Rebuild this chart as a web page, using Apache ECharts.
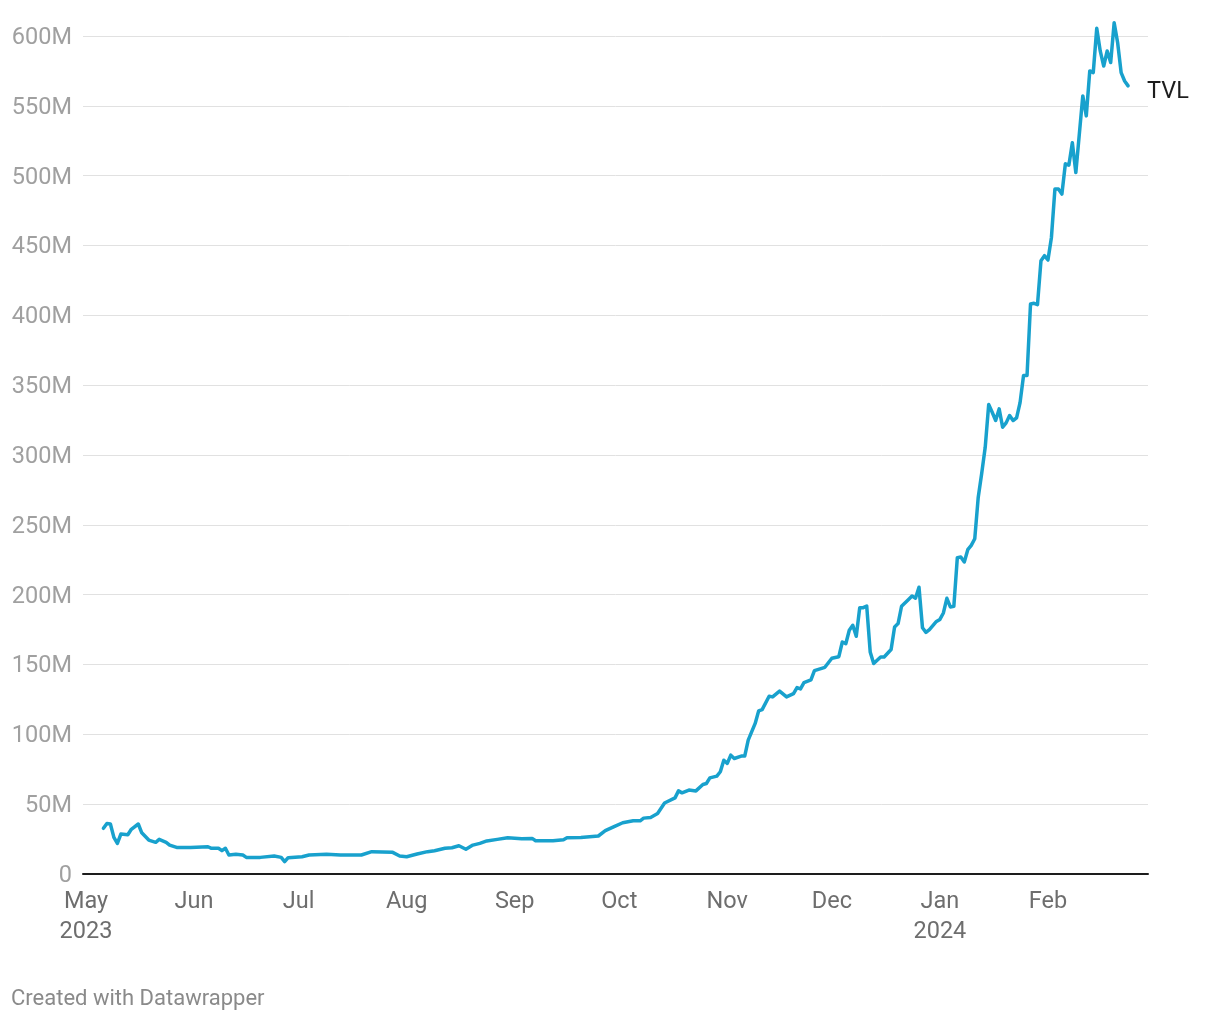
<!DOCTYPE html>
<html>
<head>
<meta charset="utf-8">
<script src="https://cdn.jsdelivr.net/npm/echarts@6/dist/echarts.min.js"></script>
<style>
html,body{margin:0;padding:0;background:#fff;}
#chart{width:1220px;height:1020px;}
</style>
</head>
<body>
<div id="chart"></div>
<script>
const dates = [
'2023-05-06','2023-05-07','2023-05-08','2023-05-09','2023-05-10','2023-05-11','2023-05-13','2023-05-14','2023-05-16','2023-05-17',
'2023-05-19','2023-05-21','2023-05-22','2023-05-24','2023-05-25','2023-05-27','2023-05-31','2023-06-05','2023-06-06','2023-06-08',
'2023-06-09','2023-06-10','2023-06-11','2023-06-13','2023-06-15','2023-06-16','2023-06-20','2023-06-24','2023-06-26','2023-06-27',
'2023-06-28','2023-07-02','2023-07-04','2023-07-09','2023-07-13','2023-07-19','2023-07-22','2023-07-28','2023-07-30','2023-08-01',
'2023-08-04','2023-08-07','2023-08-09','2023-08-12','2023-08-14','2023-08-16','2023-08-18','2023-08-20','2023-08-22','2023-08-24',
'2023-08-27','2023-08-30','2023-09-03','2023-09-06','2023-09-07','2023-09-12','2023-09-15','2023-09-16','2023-09-20','2023-09-25',
'2023-09-27','2023-09-30','2023-10-02','2023-10-05','2023-10-07','2023-10-08','2023-10-10','2023-10-12','2023-10-14','2023-10-17',
'2023-10-18','2023-10-19','2023-10-21','2023-10-23','2023-10-25','2023-10-26','2023-10-27','2023-10-29','2023-10-30','2023-10-31',
'2023-11-01','2023-11-02','2023-11-03','2023-11-05','2023-11-06','2023-11-07','2023-11-09','2023-11-10','2023-11-11','2023-11-13',
'2023-11-14','2023-11-16','2023-11-18','2023-11-20','2023-11-21','2023-11-22','2023-11-23','2023-11-25','2023-11-26','2023-11-29',
'2023-12-01','2023-12-03','2023-12-04','2023-12-05','2023-12-06','2023-12-07','2023-12-08','2023-12-09','2023-12-10','2023-12-11',
'2023-12-12','2023-12-13','2023-12-15','2023-12-16','2023-12-18','2023-12-19','2023-12-20','2023-12-21','2023-12-23','2023-12-24',
'2023-12-25','2023-12-26','2023-12-27','2023-12-28','2023-12-29','2023-12-31','2024-01-01','2024-01-02','2024-01-03','2024-01-04',
'2024-01-05','2024-01-06','2024-01-07','2024-01-08','2024-01-09','2024-01-10','2024-01-11','2024-01-12','2024-01-13','2024-01-14',
'2024-01-15','2024-01-16','2024-01-17','2024-01-18','2024-01-19','2024-01-20','2024-01-21','2024-01-22','2024-01-23','2024-01-24',
'2024-01-25','2024-01-26','2024-01-27','2024-01-28','2024-01-29','2024-01-30','2024-01-31','2024-02-01','2024-02-02','2024-02-03',
'2024-02-04','2024-02-05','2024-02-06','2024-02-07','2024-02-08','2024-02-09','2024-02-11','2024-02-12','2024-02-13','2024-02-14',
'2024-02-15','2024-02-16','2024-02-17','2024-02-18','2024-02-19','2024-02-20','2024-02-21','2024-02-22','2024-02-23','2024-02-24'
];
const tvl = [
32.7,36.2,35.8,26.2,21.9,28.6,28.1,32.0,35.8,29.5,
24.3,22.7,24.8,22.7,20.7,19.0,19.0,19.5,18.4,18.4,
16.7,18.4,13.6,14.1,13.6,11.9,11.9,12.9,11.9,8.8,
11.7,12.4,13.6,14.1,13.6,13.6,16.0,15.5,12.9,12.4,
14.3,16.0,16.7,18.4,18.8,20.2,17.7,20.7,21.9,23.7,
24.8,25.9,25.3,25.5,23.8,23.8,24.5,25.9,26.2,27.2,
31.0,34.5,36.7,38.1,38.1,40.0,40.5,43.3,50.8,54.5,
59.5,58.1,60.1,59.5,64.1,64.8,68.8,70.1,73.2,81.5,
79.2,85.1,82.7,84.4,84.4,95.8,107.8,116.8,117.7,127.3,
126.8,131.0,126.8,129.2,133.5,132.5,137.0,139.0,145.6,148.0,
154.5,155.6,166.1,164.9,174.5,178.1,170.2,190.7,190.7,191.9,
159.0,150.7,155.4,155.4,160.7,176.9,179.3,191.7,196.5,199.0,
197.5,205.3,176.3,173.0,175.0,180.8,182.3,186.9,197.4,191.2,
191.7,226.5,226.9,223.4,232.2,235.3,240.0,269.8,287.0,305.5,
336.1,330.6,324.7,333.0,319.9,323.0,328.3,324.7,326.6,337.5,
356.9,356.9,408.1,408.6,407.6,439.1,442.7,439.6,455.8,490.4,
490.4,486.8,508.5,507.5,523.6,502.2,557.1,542.8,575.0,573.8,
605.5,589.3,578.5,589.3,581.0,609.5,595.2,573.8,567.8,564.3
];
const tickDates = ['2023-05-01','2023-06-01','2023-07-01','2023-08-01','2023-09-01','2023-10-01','2023-11-01','2023-12-01','2024-01-01','2024-02-01'];
const tickLabels = ['May\n2023','Jun','Jul','Aug','Sep','Oct','Nov','Dec','Jan\n2024','Feb'];
const yTicks = [0,50,100,150,200,250,300,350,400,450,500,550,600];
const seriesName = 'TVL';

function toTs(s){ const p = s.split('-').map(Number); return new Date(p[0], p[1]-1, p[2]).getTime(); }
const tickTs = tickDates.map(toTs);
const seriesData = dates.map((d,i) => [toTs(d), tvl[i]]);

const chart = echarts.init(document.getElementById('chart'), null, {renderer:'canvas'});
chart.setOption({
  animation: false,
  backgroundColor: '#ffffff',
  textStyle: {fontFamily: 'Roboto'},
  grid: {left: 83, right: 72, top: 36, bottom: 146, containLabel: false},
  xAxis: {
    type: 'value',
    min: new Date(2023,3,30,3,20).getTime(),
    max: new Date(2024,1,29,17,0).getTime(),
    axisLine: {show: true, lineStyle: {color: '#1d1d1d', width: 2}},
    axisTick: {show: false},
    splitLine: {show: false},
    axisLabel: {
      customValues: tickTs,
      formatter: function(v){ const i = tickTs.indexOf(v); return i >= 0 ? tickLabels[i] : ''; },
      color: '#6e6e6e', fontSize: 23.5, lineHeight: 30, margin: 13, fontFamily: 'Roboto',
      showMinLabel: true, showMaxLabel: true, hideOverlap: false
    }
  },
  yAxis: {
    type: 'value',
    min: 0, max: 600, interval: 50,
    axisLine: {show: false},
    axisTick: {show: false},
    splitLine: {show: true, lineStyle: {color: '#e1e1e1', width: 1}},
    axisLabel: {
      formatter: function(v){ return yTicks.indexOf(v) < 0 ? '' : '{a|' + (v === 0 ? '0' : v + 'M') + '}'; },
      color: '#a0a0a0', fontSize: 23.5, margin: 11, fontFamily: 'Roboto',
      rich: {a: {color: '#a0a0a0', fontSize: 23.5, fontFamily: 'Roboto', padding: [4, 0, 0, 0]}}
    }
  },
  series: [{
    name: seriesName,
    type: 'line',
    data: seriesData,
    clip: false,
    showSymbol: false,
    symbol: 'none',
    lineStyle: {color: '#18a1cd', width: 3.5, join: 'round', cap: 'round'},
    itemStyle: {color: '#18a1cd'},
    endLabel: {show: true, formatter: seriesName, color: '#1d1d1d', fontSize: 23.5, distance: 19, fontFamily: 'Roboto', offset: [0, 6]},
    z: 5
  }],
  graphic: [{
    type: 'text', left: 11, top: 988,
    style: {text: 'Created with Datawrapper', fill: '#8a8a8a', fontSize: 22, fontFamily: 'Roboto'}
  }]
});
</script>
</body>
</html>
